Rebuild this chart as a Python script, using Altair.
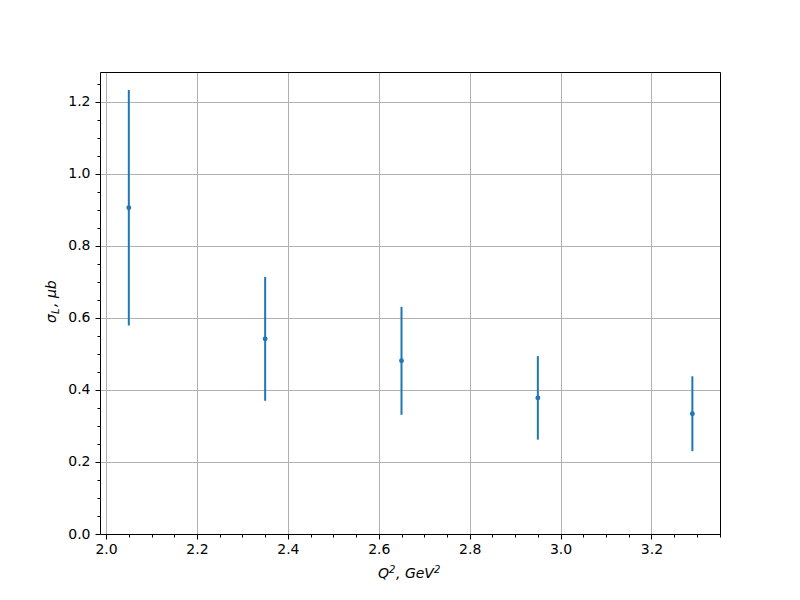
import altair as alt
import pandas as pd

# Data
q2 = [2.05, 2.35, 2.65, 2.95, 3.29]
sigma_L = [0.906, 0.542, 0.481, 0.378, 0.334]
sigma_err = [0.327, 0.172, 0.150, 0.116, 0.104]

x_major = [2.0, 2.2, 2.4, 2.6, 2.8, 3.0, 3.2]
x_minor = [2.05, 2.1, 2.15, 2.25, 2.3, 2.35, 2.45, 2.5, 2.55, 2.65, 2.7, 2.75,
           2.85, 2.9, 2.95, 3.05, 3.1, 3.15, 3.25, 3.3, 3.35]
y_major = [0.0, 0.2, 0.4, 0.6, 0.8, 1.0, 1.2]
y_minor = [0.05, 0.1, 0.15, 0.25, 0.3, 0.35, 0.45, 0.5, 0.55, 0.65, 0.7, 0.75,
           0.85, 0.9, 0.95, 1.05, 1.1, 1.15, 1.25]

x_domain = [1.9866, 3.3508]
y_domain = [0.0, 1.283]

df = pd.DataFrame({"q2": q2, "s": sigma_L, "e": sigma_err})
df["lo"] = df["s"] - df["e"]
df["hi"] = df["s"] + df["e"]

COLOR = "#1f77b4"
FONT = "DejaVu Sans"

xscale = alt.Scale(domain=x_domain, nice=False, zero=False)
yscale = alt.Scale(domain=y_domain, nice=False, zero=False)

x_axis = alt.Axis(values=x_major, format=".1f", title=None, grid=True, gridColor="#b0b0b0",
                  gridWidth=1, tickSize=5, tickColor="black", labelPadding=3, labelFont=FONT,
                  labelFontSize=14, labelColor="black", domainColor="black", orient="bottom")
y_axis = alt.Axis(values=y_major, format=".1f", title=None, grid=True, gridColor="#b0b0b0",
                  gridWidth=1, tickSize=5, tickColor="black", labelPadding=5, labelFont=FONT,
                  labelFontSize=14, labelColor="black", domainColor="black", orient="left")

bars = alt.Chart(df).mark_rule(color=COLOR, strokeWidth=2).encode(
    x=alt.X("q2:Q", scale=xscale, axis=x_axis),
    y=alt.Y("lo:Q", scale=yscale, axis=y_axis),
    y2="hi:Q",
)

# points layer also carries the top/right frame lines
top_axis = alt.Axis(orient="top", labels=False, ticks=False, grid=False, title=None,
                    domain=True, domainColor="black")
right_axis = alt.Axis(orient="right", labels=False, ticks=False, grid=False, title=None,
                      domain=True, domainColor="black")
pts = alt.Chart(df).mark_circle(color=COLOR, size=24, opacity=1).encode(
    x=alt.X("q2:Q", scale=xscale, axis=top_axis),
    y=alt.Y("s:Q", scale=yscale, axis=right_axis),
)

# minor ticks layer
minor_x_axis = alt.Axis(values=x_minor, labels=False, title=None, grid=False, domain=False,
                        tickSize=3, tickColor="black", orient="bottom")
minor_y_axis = alt.Axis(values=y_minor, labels=False, title=None, grid=False, domain=False,
                        tickSize=3, tickColor="black", orient="left")
minor = alt.Chart(df).mark_point(opacity=0).encode(
    x=alt.X("q2:Q", scale=xscale, axis=minor_x_axis),
    y=alt.Y("s:Q", scale=yscale, axis=minor_y_axis),
)


def label(txt, x, y, size=14, angle=0):
    return alt.Chart(pd.DataFrame({"t": [txt]})).mark_text(
        angle=angle, align="left", baseline="alphabetic", font=FONT, fontSize=size,
        fontStyle="italic", color="black"
    ).encode(x=alt.value(x), y=alt.value(y), text="t:N")


# y-axis title  σ_L, μb  (rotated)
y_title = [
    label("σ", -44, 251, 14, 270),
    label("L", -41, 242, 10, 270),
    label(", μb", -44, 235, 14, 270),
]
# x-axis title  Q^2, GeV^2
x_title = [
    label("Q", 278, 506, 14),
    label("2", 289, 501, 10),
    label(", GeV", 296, 506, 14),
    label("2", 334, 501, 10),
]

chart = alt.layer(bars, pts, minor, *y_title, *x_title).resolve_axis(
    x="independent", y="independent"
).properties(
    width=620, height=462,
    autosize=alt.AutoSizeParams(type="none"),
    padding={"left": 92, "top": 64, "right": 72, "bottom": 58},
).configure_view(stroke="black", strokeWidth=1).configure(background="white")

chart.save("out.html", embed_options={"renderer": "svg", "actions": False})
